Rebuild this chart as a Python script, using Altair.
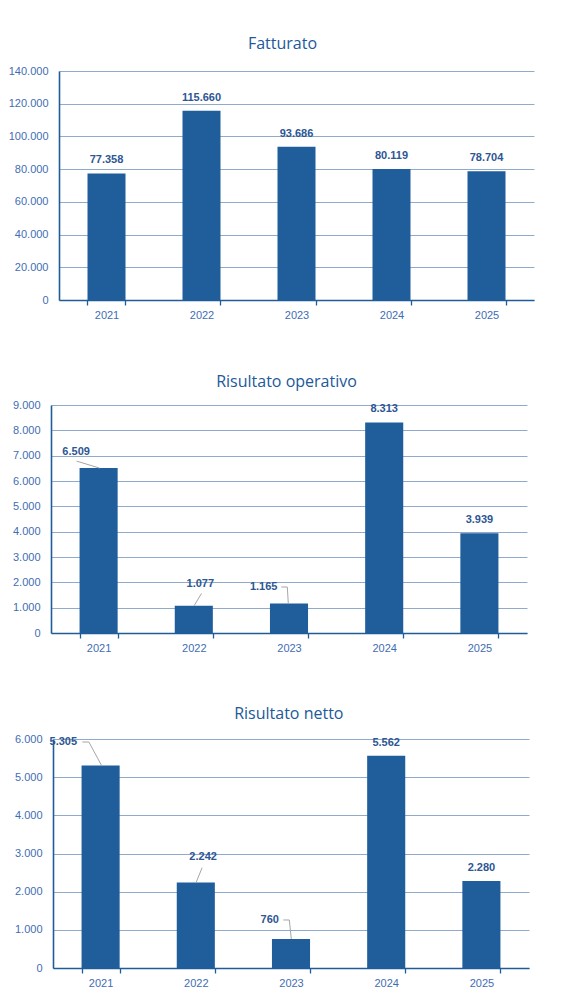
import altair as alt
import pandas as pd

# ---------------- data ----------------
years = ["2021", "2022", "2023", "2024", "2025"]
fatturato = [77358, 115660, 93686, 80119, 78704]
risultato_operativo = [6509, 1077, 1165, 8313, 3939]
risultato_netto = [5305, 2242, 760, 5562, 2280]

titles = ["Fatturato", "Risultato operativo", "Risultato netto"]
y_max = [140000, 9000, 6000]
y_step = [20000, 1000, 1000]

# ---------------- annotation layout (pixel offsets from bar-top centre) ----------------
label_off_1 = [(0, -13)] * 5
label_off_2 = [(-22.5, -16), (6.5, -21.3), (-25.3, -16.5), (0, -13.4), (0, -13)]
label_off_3 = [(-37.3, -23.2), (7.3, -25.1), (-21.3, -19), (0, -12.5), (0, -13)]
leaders_1 = {}
leaders_2 = {0: [(-22, -7), (1, 0)],
             1: [(7.7, -12.3), (0.3, 0)],
             2: [(-7.7, -16.5), (-1.7, -16.5), (-0.7, 0)]}
leaders_3 = {0: [(-18.3, -23.5), (-11.7, -23.5), (0.7, -0.5)],
             1: [(6.3, -14.7), (0.3, 0)],
             2: [(-7.7, -19), (-1.7, -19), (0.3, 0)]}

# ---------------- style ----------------
BAR = "#1F5E9B"
AXIS = "#1F5C99"
GRID = "#8FAACB"
TICKLBL = "#3F6DB3"
DATALBL = "#2D5694"
TITLE = "#21599A"
LEADER = "#A6A6A6"

FMT = "replace(format(datum.value, ','), ',', '.')"
EXTENT = 51  # left room for the y labels of the widest panel


def panel(title, values, ymax, ystep, W, H, shift, title_dx, title_offset, label_off, leaders):
    n = len(years)
    step = W / n
    k = ymax / H
    xrange = [-shift, W - shift]
    yscale = alt.Scale(domain=[0, ymax], nice=False, zero=True)
    yaxis = alt.Axis(title=None, values=list(range(0, ymax + 1, ystep)), labelExpr=FMT,
                     ticks=False, tickSize=0, grid=True, gridColor=GRID, gridWidth=1,
                     domain=True, domainColor=AXIS, domainWidth=1.6, offset=shift,
                     labelPadding=11, minExtent=EXTENT - shift, maxExtent=EXTENT - shift)
    xq_scale = alt.Scale(domain=[-0.5, n - 0.5], nice=False, zero=False, range=xrange)

    bars_df = pd.DataFrame({"anno": years, "y": values})
    bars = alt.Chart(bars_df).mark_bar(color=BAR).encode(
        x=alt.X("anno:O", sort=years,
                scale=alt.Scale(paddingInner=0.6, paddingOuter=0.3, range=xrange),
                axis=alt.Axis(title=None, labelAngle=0, tickBand="extent", ticks=True,
                              tickSize=5, tickColor=AXIS, tickWidth=1.3,
                              domainColor=AXIS, domainWidth=1.3, grid=False,
                              labelPadding=4)),
        y=alt.Y("y:Q", scale=yscale, axis=yaxis),
    )

    lab_df = pd.DataFrame({
        "xq": [i + dx / step for i, (dx, dy) in enumerate(label_off)],
        "y": [v - dy * k for v, (dx, dy) in zip(values, label_off)],
        "valore": values,
    })
    labels = alt.Chart(lab_df).transform_calculate(
        lbl="replace(format(datum.valore, ','), ',', '.')"
    ).mark_text(font="Liberation Sans", fontSize=11, fontWeight="bold", color=DATALBL,
                baseline="middle", align="center").encode(
        x=alt.X("xq:Q", scale=xq_scale, axis=None),
        y=alt.Y("y:Q", scale=yscale, axis=yaxis),
        text="lbl:N",
    )

    layers = [bars]
    if leaders:
        rows = []
        for i, pts in leaders.items():
            for j, (dx, dy) in enumerate(pts):
                rows.append({"id": i, "k": j, "xq": i + dx / step, "y": values[i] - dy * k})
        lead = alt.Chart(pd.DataFrame(rows)).mark_line(color=LEADER, strokeWidth=1).encode(
            x=alt.X("xq:Q", scale=xq_scale, axis=None),
            y=alt.Y("y:Q", scale=yscale, axis=yaxis),
            detail="id:N",
            order="k:Q",
        )
        layers.append(lead)
    layers.append(labels)

    return alt.layer(*layers).resolve_scale(x="independent").properties(
        width=W, height=H,
        title=alt.TitleParams(title, font="Open Sans", fontSize=16, fontWeight="normal",
                              color=TITLE, anchor="middle", frame="group", dx=title_dx,
                              offset=title_offset, baseline="alphabetic"),
    )


p1 = panel(titles[0], fatturato, y_max[0], y_step[0], 475, 229, 0, -14, 0, label_off_1, leaders_1)
p2 = panel(titles[1], risultato_operativo, y_max[1], y_step[1], 476, 228, 8, -10.5, -3.7, label_off_2, leaders_2)
p3 = panel(titles[2], risultato_netto, y_max[2], y_step[2], 476, 229, 6, -8.2, -2, label_off_3, leaders_3)

chart = alt.vconcat(p1, p2, p3, spacing=53).properties(
    padding={"left": 0, "top": 28, "right": 10, "bottom": 5}
).configure_view(stroke=None).configure_axis(
    labelFont="Liberation Sans", labelFontSize=11, labelColor=TICKLBL,
)

chart.save("out.html", embed_options={"renderer": "svg", "actions": False})
